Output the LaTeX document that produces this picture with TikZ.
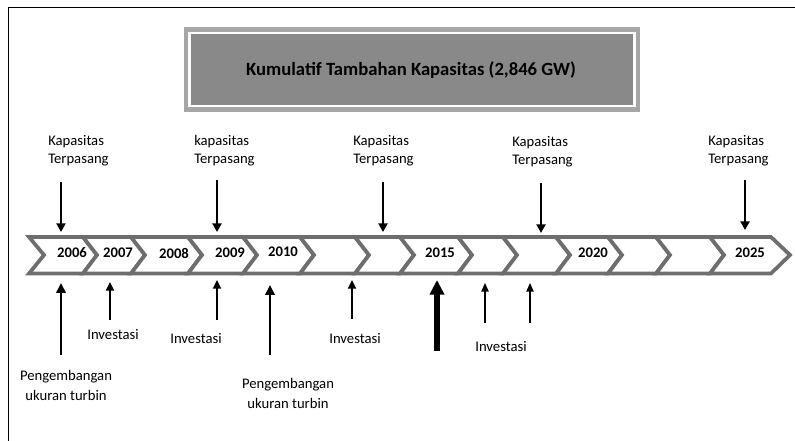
\documentclass[tikz,border=0pt]{standalone}
\usepackage{fontspec}
\setmainfont{Carlito}
\usetikzlibrary{arrows.meta}
\definecolor{chevgray}{HTML}{6E6E6E}
\definecolor{titleouter}{HTML}{A6A6A6}
\definecolor{titlefill}{HTML}{898989}
\begin{document}
\begin{tikzpicture}[x=0.75pt,y=-0.75pt,
  chev/.style={draw=chevgray, line width=2.8pt, fill=white, line join=miter},
  year/.style={font=\fontsize{11}{13}\selectfont\bfseries, inner sep=0pt},
  toplbl/.style={font=\fontsize{11}{13.4}\selectfont, align=left, anchor=west, inner sep=0pt},
  botlbl/.style={font=\fontsize{11}{15}\selectfont, align=center, inner sep=0pt},
  downarr/.style={line width=1.5pt, -{Triangle[width=6.8pt,length=6.5pt]}},
  devarr/.style={line width=2pt, -{Triangle[width=7pt,length=7.5pt]}},
  invarr/.style={line width=1.5pt, -{Triangle[width=6pt,length=6.5pt]}},
  thinarr/.style={line width=1.2pt, -{Triangle[width=5.5pt,length=6.5pt]}},
  bigarr/.style={line width=3.8pt, -{Triangle[width=10.5pt,length=11pt]}}
]
\useasboundingbox (0,0) rectangle (795,441);

% frame
\draw[line width=1.2pt] (8.5,441) -- (8.5,7.5) -- (795,7.5);

% title box
\fill[titleouter] (184,27) rectangle (640,112);
\draw[white, line width=1.6pt, fill=titlefill] (189.5,33) rectangle (634.5,106);
\node[font=\fontsize{14}{17}\selectfont\bfseries] (title) at (411,70)
  {Kumulatif Tambahan Kapasitas (2,846 GW)};

% chevron band: left top / left notch / right top / right tip
\foreach \l/\n/\r/\t in {29/44/83/97, 83/97/131/145, 131/145/188/202,
    188/202/243/257, 243/257/300/314, 300/314/355/369, 355/369/400/414,
    400/414/458/472, 458/472/503/517, 503/517/556/570, 556/570/608/622,
    608/622/656/670, 656/670/710/724, 710/724/771/790}
  \draw[chev] (\l,237) -- (\r,237) -- (\t,255) -- (\r,273.5) -- (\l,273.5) -- (\n,255) -- cycle;

% years
\node[year] (y2006) at (72,253) {2006};
\node[year] (y2007) at (118,253) {2007};
\node[year] (y2008) at (174,253) {2008};
\node[year] (y2009) at (230,253) {2009};
\node[year] (y2010) at (283,252) {2010};
\node[year] (y2015) at (440,253) {2015};
\node[year] (y2020) at (593,253) {2020};
\node[year] (y2025) at (750,253) {2025};

% installed capacity labels and arrows
\node[toplbl] (k1) at (48,151) {Kapasitas\\Terpasang};
\node[toplbl] (k2) at (194,151) {kapasitas\\Terpasang};
\node[toplbl] (k3) at (353,151) {Kapasitas\\Terpasang};
\node[toplbl] (k4) at (512,152) {Kapasitas\\Terpasang};
\node[toplbl] (k5) at (708,151) {Kapasitas\\Terpasang};

\coordinate (k1s) at (61,182);  \coordinate (k1e) at (61,232);
\coordinate (k2s) at (217,180); \coordinate (k2e) at (217,232);
\coordinate (k3s) at (383,182); \coordinate (k3e) at (383,232);
\coordinate (k4s) at (541,183); \coordinate (k4e) at (541,233);
\coordinate (k5s) at (745,180); \coordinate (k5e) at (745,230);
\foreach \k in {k1,k2,k3,k4,k5}
  \draw[downarr] (\k s) -- (\k e);

% lower arrows
\coordinate (p1s) at (61,355);  \coordinate (p1e) at (61,283);
\coordinate (i1s) at (110,320); \coordinate (i1e) at (110,282);
\coordinate (i2s) at (217,320); \coordinate (i2e) at (217,280);
\coordinate (p2s) at (270,355); \coordinate (p2e) at (270,285);
\coordinate (i3s) at (352,319); \coordinate (i3e) at (352,280);
\coordinate (bs)  at (437,351); \coordinate (be)  at (437,280);
\coordinate (i4s) at (485,323); \coordinate (i4e) at (485,283);
\coordinate (i5s) at (530,323); \coordinate (i5e) at (530,283);

\draw[devarr] (p1s) -- (p1e);
\draw[devarr] (p2s) -- (p2e);
\draw[invarr] (i1s) -- (i1e);
\draw[invarr] (i2s) -- (i2e);
\draw[invarr] (i3s) -- (i3e);
\draw[bigarr] (bs) -- (be);
\draw[thinarr] (i4s) -- (i4e);
\draw[thinarr] (i5s) -- (i5e);

% lower labels
\node[botlbl] (d1) at (66,385) {Pengembangan\\ukuran turbin};
\node[botlbl] (d2) at (288,393) {Pengembangan\\ukuran turbin};
\node[botlbl] (v1) at (113,335) {Investasi};
\node[botlbl] (v2) at (196,339) {Investasi};
\node[botlbl] (v3) at (355,339) {Investasi};
\node[botlbl] (v4) at (501,347) {Investasi};
\end{tikzpicture}
\end{document}
